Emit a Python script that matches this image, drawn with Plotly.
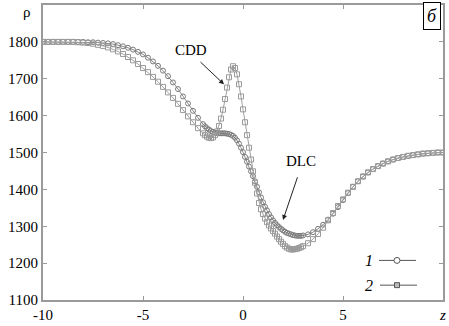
import plotly.graph_objects as go

# ---- data ----
x_1 = [-10, -9.75, -9.5, -9.25, -9, -8.75, -8.5, -8.25, -8, -7.75, -7.5, -7.25, -7, -6.75, -6.5, -6.25,
       -6, -5.75, -5.5, -5.25, -5, -4.75, -4.5, -4.25, -4, -3.75, -3.5, -3.25, -3, -2.75, -2.5, -2.25,
       -2, -1.9, -1.8, -1.7, -1.6, -1.5, -1.4, -1.3, -1.2, -1.1, -1, -0.9, -0.8, -0.7, -0.6, -0.5,
       -0.4, -0.3, -0.2, -0.1, 0, 0.1, 0.2, 0.3, 0.4, 0.5, 0.6, 0.7, 0.8, 0.9, 1, 1.1, 1.2, 1.3, 1.4,
       1.5, 1.6, 1.7, 1.8, 1.9, 2, 2.1, 2.2, 2.3, 2.4, 2.5, 2.6, 2.7, 2.8, 2.9, 3,
       3.25, 3.5, 3.75, 4, 4.25, 4.5, 4.75, 5, 5.25, 5.5, 5.75, 6, 6.25, 6.5, 6.75, 7, 7.25, 7.5,
       7.75, 8, 8.25, 8.5, 8.75, 9, 9.25, 9.5, 9.75, 10]
rho_1 = [1800, 1800, 1800, 1800, 1800, 1800, 1800, 1800, 1800, 1799, 1799, 1798, 1797, 1796, 1794, 1791,
         1788, 1784, 1779, 1773, 1766, 1757, 1747, 1735, 1722, 1707, 1690, 1672, 1652, 1633, 1613, 1594,
         1577, 1571, 1566, 1562, 1558, 1556, 1554, 1553, 1552, 1552, 1552, 1552, 1551, 1550, 1548, 1545,
         1540, 1533, 1524, 1513, 1501, 1488, 1475, 1462, 1449, 1436, 1422, 1407, 1392, 1378, 1365, 1353,
         1343, 1333, 1324, 1316, 1309, 1303, 1298, 1293, 1289, 1285, 1282, 1280, 1278, 1276, 1275, 1274,
         1274, 1274, 1275,
         1278, 1284, 1293, 1304, 1318, 1334, 1352, 1371, 1390, 1407, 1422, 1435, 1446, 1455, 1463, 1470,
         1476, 1481, 1485, 1488, 1491, 1493, 1495, 1497, 1498, 1499, 1500, 1500]

x_2 = [-10, -9.75, -9.5, -9.25, -9, -8.75, -8.5, -8.25, -8, -7.75, -7.5, -7.25, -7, -6.75, -6.5, -6.25,
       -6, -5.75, -5.5, -5.25, -5, -4.75, -4.5, -4.25, -4, -3.75, -3.5, -3.25, -3, -2.75, -2.5, -2.25,
       -2, -1.9, -1.8, -1.7, -1.6, -1.5, -1.4, -1.3, -1.2, -1.1, -1, -0.9, -0.8, -0.7, -0.6, -0.5,
       -0.4, -0.3, -0.2, -0.1, 0, 0.1, 0.2, 0.3, 0.4, 0.5, 0.6, 0.7, 0.8, 0.9, 1, 1.1, 1.2, 1.3, 1.4,
       1.5, 1.6, 1.7, 1.8, 1.9, 2, 2.1, 2.2, 2.3, 2.4, 2.5, 2.6, 2.7, 2.8, 2.9, 3,
       3.25, 3.5, 3.75, 4, 4.25, 4.5, 4.75, 5, 5.25, 5.5, 5.75, 6, 6.25, 6.5, 6.75, 7, 7.25, 7.5,
       7.75, 8, 8.25, 8.5, 8.75, 9, 9.25, 9.5, 9.75, 10]
rho_2 = [1800, 1800, 1800, 1800, 1800, 1800, 1800, 1799, 1798, 1797, 1795, 1792, 1789, 1785, 1780, 1774,
         1767, 1759, 1750, 1740, 1729, 1718, 1705, 1692, 1678, 1663, 1648, 1632, 1615, 1598, 1582, 1566,
         1552, 1547, 1543, 1540, 1539, 1541, 1547, 1557, 1572, 1592, 1616, 1645, 1676, 1704, 1725, 1734,
         1729, 1712, 1685, 1652, 1617, 1582, 1547, 1513, 1481, 1449, 1418, 1389, 1363, 1346, 1333, 1321,
         1311, 1302, 1294, 1287, 1280, 1272, 1265, 1258, 1252, 1246, 1242, 1239, 1237, 1237, 1238, 1239,
         1241, 1243, 1246,
         1254, 1265, 1279, 1296, 1316, 1336, 1355, 1373, 1391, 1407, 1422, 1435, 1446, 1455, 1463, 1470,
         1476, 1481, 1485, 1488, 1491, 1493, 1495, 1497, 1498, 1499, 1500, 1500]

x_ticks = [-10, -5, 0, 5, 10]
x_tick_labels = ["-10", "-5", "0", "5", "<i>z</i>"]
y_ticks = [1100, 1200, 1300, 1400, 1500, 1600, 1700, 1800]
y_tick_labels = ["1100", "1200", "1300", "1400", "1500", "1600", "1700", "1800"]
series_names = ["1", "2"]

FONT = "Liberation Serif"
AX = "#9a9a9a"

fig = go.Figure()
fig.add_trace(go.Scatter(
    x=x_1, y=rho_1, mode="lines+markers", name=series_names[0],
    line=dict(color="#8a8a8a", width=1),
    marker=dict(symbol="circle-open", size=5, color="#7a7a7a", line=dict(width=1)),
    showlegend=False))
fig.add_trace(go.Scatter(
    x=x_2, y=rho_2, mode="lines+markers", name=series_names[1],
    line=dict(color="#a0a0a0", width=1),
    marker=dict(symbol="square-open", size=5, color="#9a9a9a", line=dict(width=1)),
    showlegend=False))

axis_common = dict(showline=True, linecolor=AX, linewidth=2, mirror="ticks",
                   ticks="inside", ticklen=4, tickcolor=AX, tickwidth=1,
                   showgrid=False, zeroline=False,
                   tickfont=dict(family=FONT, size=15, color="black"))

fig.update_xaxes(range=[-10, 10], tickvals=x_ticks, ticktext=x_tick_labels, **axis_common)
fig.update_yaxes(range=[1100, 1900], tickvals=y_ticks, ticktext=y_tick_labels, **axis_common)

# paper-coordinate helpers (plot area is 400 x 298 px)
def px(xp):
    return (xp - 43) / 400.0

def py(yp):
    return (301 - yp) / 298.0

C = dict(xanchor="center", yanchor="middle")

annotations = [
    dict(text="ρ", x=px(27), y=py(10), xref="paper", yref="paper", showarrow=False,
         font=dict(family=FONT, size=15, color="black"), **C),
    dict(text="<i>б</i>", x=px(431.5), y=py(14), xref="paper", yref="paper", showarrow=False,
         font=dict(family=FONT, size=18, color="black"),
         bordercolor="black", borderwidth=1, borderpad=3, bgcolor="white", **C),
    dict(text="CDD", x=-2.6, y=1779, showarrow=False,
         font=dict(family=FONT, size=15, color="black"), **C),
    dict(text="DLC", x=2.9, y=1478, showarrow=False,
         font=dict(family=FONT, size=15, color="black"), **C),
    dict(text="", x=-0.95, y=1685, ax=-2.2, ay=1749, axref="x", ayref="y",
         showarrow=True, arrowhead=2, arrowsize=1, arrowwidth=1, arrowcolor="#222"),
    dict(text="", x=2.0, y=1317, ax=2.75, ay=1437, axref="x", ayref="y",
         showarrow=True, arrowhead=2, arrowsize=1, arrowwidth=1, arrowcolor="#222"),
    dict(text="<i>1</i>", x=px(369), y=py(261), xref="paper", yref="paper", showarrow=False,
         font=dict(family=FONT, size=16, color="black"), **C),
    dict(text="<i>2</i>", x=px(369), y=py(286), xref="paper", yref="paper", showarrow=False,
         font=dict(family=FONT, size=16, color="black"), **C),
]

shapes = [
    dict(type="line", xref="paper", yref="paper", x0=px(379), x1=px(416), y0=py(261), y1=py(261),
         line=dict(color="#555", width=1)),
    dict(type="circle", xref="paper", yref="paper", x0=px(394), x1=px(400), y0=py(264), y1=py(258),
         line=dict(color="#555", width=1), fillcolor="white"),
    dict(type="line", xref="paper", yref="paper", x0=px(380), x1=px(417), y0=py(286), y1=py(286),
         line=dict(color="#555", width=1)),
    dict(type="rect", xref="paper", yref="paper", x0=px(394.5), x1=px(399.5), y0=py(288.5), y1=py(283.5),
         line=dict(color="#555", width=1), fillcolor="#bbb"),
]

fig.update_layout(
    width=449, height=326,
    margin=dict(l=43, r=6, t=3, b=25),
    paper_bgcolor="white", plot_bgcolor="white",
    annotations=annotations, shapes=shapes,
    font=dict(family=FONT, size=15, color="black"),
)

fig.write_html("out.html",
               config={"displayModeBar": False},
               post_script="document.body.style.margin='0';document.body.style.overflow='hidden';")
